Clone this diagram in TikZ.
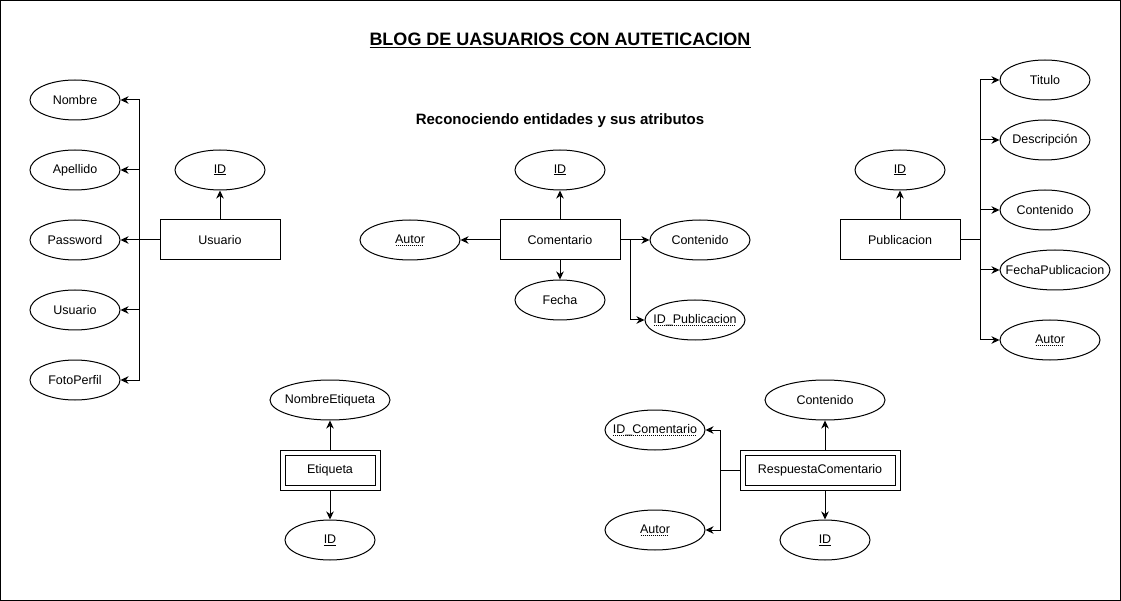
\documentclass[tikz,border=0pt]{standalone}
\usepackage{fontspec}
\setmainfont{Liberation Sans}
\usepackage{tikz}
\usetikzlibrary{shapes.geometric,arrows.meta}
\newsavebox\keybox
\newcommand\pkey[1]{\underline{#1}}
\newcommand\fkey[1]{\sbox\keybox{#1}\leavevmode\rlap{\raisebox{-2.5pt}{\hbox to \wd\keybox{\leaders\hbox to 2pt{\hss\rule{1pt}{0.8pt}\hss}\hfill}}}\usebox\keybox}
\tikzset{
        attr/.style={ellipse,draw,line width=1pt,minimum width=#1,minimum height=40pt,
                inner xsep=-30pt,inner ysep=0pt,font=\fontsize{12.5}{15}\selectfont},
        attr/.default=90pt,
        entity/.style={rectangle,draw,line width=1pt,minimum width=120pt,minimum height=40pt,
                font=\fontsize{12.5}{15}\selectfont},
        weak/.style={rectangle,draw,double,double distance=4pt,line width=1pt,
                minimum width=#1,minimum height=35pt,outer sep=2.5pt,font=\fontsize{12.5}{15}\selectfont},
        link/.style={line width=1pt,-{Stealth[length=8pt,width=7.5pt,inset=2.5pt]}},
        plain/.style={line width=1pt}
    }

\begin{document}
\begin{tikzpicture}[x=1pt,y=-1pt]

\useasboundingbox (0,0) rectangle (1121,601);
\draw[line width=1pt] (0.5,0.5) rectangle (1120.5,600.5);

\draw (560,40) node(TITLE)[font=\fontsize{18}{21}\selectfont\bfseries]{\pkey{BLOG DE UASUARIOS CON AUTETICACION}};
\draw (560,121) node(SUB)[font=\fontsize{15}{18}\selectfont\bfseries]{Reconociendo entidades y sus atributos};

% Usuario
\draw (220,240) node(USR)[entity]{Usuario};
\draw (220,170) node(UID)[attr]{\pkey{ID}};
\draw (75,100) node(NOM)[attr]{Nombre};
\draw (75,170) node(APE)[attr]{Apellido};
\draw (75,240) node(PAS)[attr]{Password};
\draw (75,310) node(UUS)[attr]{Usuario};
\draw (75,380) node(FOT)[attr]{FotoPerfil};

\draw[link] (USR.north) -- (UID);
\draw[link] (USR.west) -- (PAS);
\draw[link] (USR.west) -- ++(-20,0) |- (NOM);
\draw[link] (USR.west) -- ++(-20,0) |- (APE);
\draw[link] (USR.west) -- ++(-20,0) |- (UUS);
\draw[link] (USR.west) -- ++(-20,0) |- (FOT);

% Comentario
\draw (560,240) node(COM)[entity]{Comentario};
\draw (560,170) node(CID)[attr]{\pkey{ID}};
\draw (410,240) node(CAU)[attr=100pt]{\fkey{Autor}};
\draw (560,300) node(FEC)[attr]{Fecha};
\draw (700,240) node(CCO)[attr=100pt]{Contenido};
\draw (695,320) node(IDP)[attr=100pt]{\fkey{ID\_Publicacion}};

\draw[link] (COM.north) -- (CID);
\draw[link] (COM.west) -- (CAU);
\draw[link] (COM.south) -- (FEC);
\draw[link] (COM.east) -- (CCO);
\draw[link] (COM.east) -- ++(10,0) |- (IDP);

% Publicacion
\draw (900,240) node(PUB)[entity]{Publicacion};
\draw (900,170) node(PID)[attr]{\pkey{ID}};
\draw (1045,80) node(TIT)[attr]{Titulo};
\draw (1045,140) node(DES)[attr]{Descripción};
\draw (1045,210) node(PCO)[attr]{Contenido};
\draw (1055,270) node(FPU)[attr=110pt]{FechaPublicacion};
\draw (1050,340) node(PAU)[attr=100pt]{\fkey{Autor}};

\draw[link] (PUB.north) -- (PID);
\draw[link] (PUB.east) -- ++(20,0) |- (TIT);
\draw[link] (PUB.east) -- ++(20,0) |- (DES);
\draw[link] (PUB.east) -- ++(20,0) |- (PCO);
\draw[link] (PUB.east) -- ++(20,0) |- (FPU);
\draw[link] (PUB.east) -- ++(20,0) |- (PAU);

% Etiqueta
\draw (330,470) node(ETQ)[weak=95pt]{Etiqueta};
\draw (330,400) node(NET)[attr=120pt]{NombreEtiqueta};
\draw (330,540) node(EID)[attr]{\pkey{ID}};

\draw[link] (ETQ.north) -- (NET);
\draw[link] (ETQ.south) -- (EID);

% RespuestaComentario
\draw (820,470) node(RSP)[weak=155pt]{RespuestaComentario};
\draw (825,400) node(RCO)[attr=120pt]{Contenido};
\draw (825,540) node(RID)[attr]{\pkey{ID}};
\draw (655,430) node(IDC)[attr=100pt]{\fkey{ID\_Comentario}};
\draw (655,530) node(RAU)[attr=100pt]{\fkey{Autor}};

\draw[link] (RCO.south |- RSP.north) -- (RCO);
\draw[link] (RID.north |- RSP.south) -- (RID);
\draw[link] (RSP.west) -- ++(-20,0) |- (IDC);
\draw[link] (RSP.west) -- ++(-20,0) |- (RAU);

\end{tikzpicture}
\end{document}
